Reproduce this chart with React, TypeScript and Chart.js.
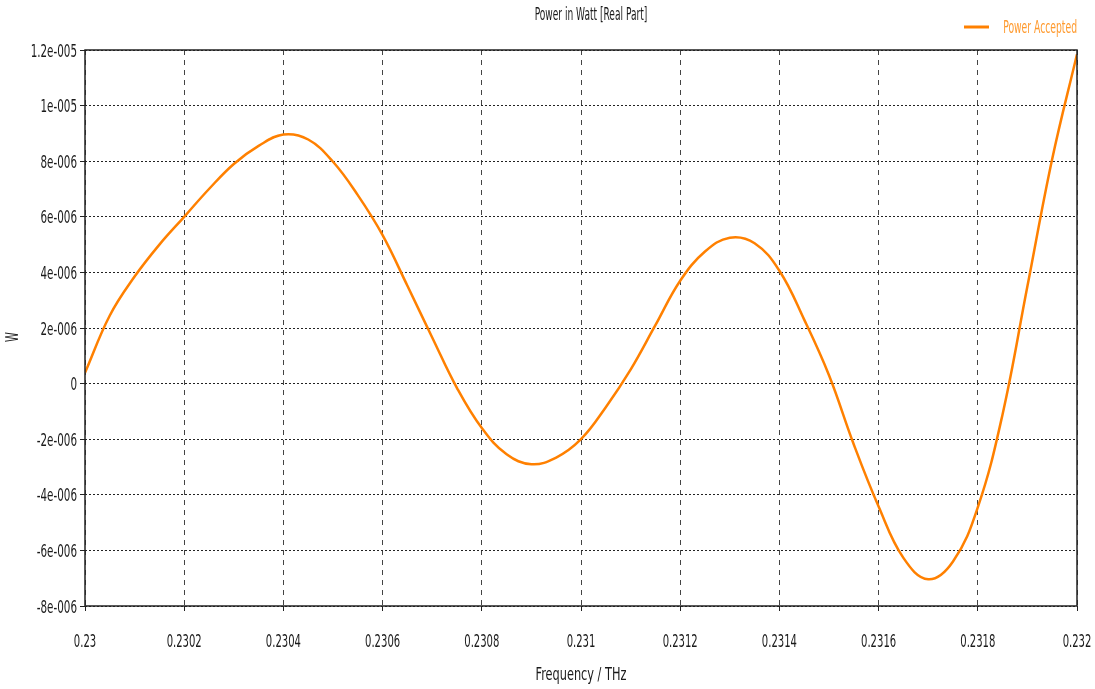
import React, { useEffect, useRef } from "react";
import { Chart, registerables } from "chart.js";

Chart.register(...registerables);

// Frequency in THz
const freqTHz = [
  0.23, 0.23005, 0.2301, 0.23015, 0.2302, 0.23025, 0.2303, 0.23035, 0.2304, 0.23045,
  0.2305, 0.23055, 0.2306, 0.23065, 0.2307, 0.23075, 0.2308, 0.23085, 0.2309, 0.23095,
  0.231, 0.23105, 0.2311, 0.23115, 0.2312, 0.23125, 0.2313, 0.23135, 0.2314, 0.23145,
  0.2315, 0.23155, 0.2316, 0.23165, 0.2317, 0.23175, 0.2318, 0.23185, 0.2319, 0.23195,
  0.232,
];

// Power accepted, real part, in microwatt
const powerMicroW = [
  0.39, 2.45, 3.85, 5.0, 6.0, 7.0, 7.9, 8.55, 8.96, 8.78,
  7.98, 6.78, 5.34, 3.52, 1.66, -0.16, -1.6, -2.54, -2.9, -2.66,
  -2.0, -0.85, 0.5, 2.1, 3.7, 4.75, 5.25, 5.05, 4.06, 2.3,
  0.3, -2.19, -4.42, -6.27, -7.04, -6.4, -4.45, -1.1, 3.5, 8.08,
  11.85,
];

const xTickValues = [
  0.23, 0.2302, 0.2304, 0.2306, 0.2308, 0.231, 0.2312, 0.2314, 0.2316, 0.2318, 0.232,
];
const xTickLabels = [
  "0.23", "0.2302", "0.2304", "0.2306", "0.2308", "0.231", "0.2312", "0.2314", "0.2316", "0.2318", "0.232",
];
const yTickValues = [
  -8e-6, -6e-6, -4e-6, -2e-6, 0, 2e-6, 4e-6, 6e-6, 8e-6, 1e-5, 1.2e-5,
];
const yTickLabels = [
  "-8e-006", "-6e-006", "-4e-006", "-2e-006", "0", "2e-006", "4e-006", "6e-006", "8e-006", "1e-005", "1.2e-005",
];

const chartTitle = "Power in Watt [Real Part]";
const seriesName = "Power Accepted";
const xTitle = "Frequency / THz";
const yTitle = "W";

const FONT = '"DejaVu Sans Condensed", "DejaVu Sans", sans-serif';
const ORANGE = "#ff8000";
const TEXT = "#1a1a1a";

function drawText(
  ctx: CanvasRenderingContext2D,
  text: string,
  x: number,
  y: number,
  align: "left" | "center" | "right",
  sx: number,
  color: string,
  size = 18
) {
  ctx.save();
  ctx.font = `${size}px ${FONT}`;
  ctx.fillStyle = color;
  ctx.textBaseline = "alphabetic";
  ctx.textAlign = align;
  ctx.translate(x, y);
  ctx.scale(sx, 1);
  ctx.fillText(text, 0, 0);
  ctx.restore();
}

const overlayPlugin = {
  id: "overlay",
  afterDraw(chart: any) {
    const { ctx, chartArea, scales } = chart;
    const { left, top, right, bottom } = chartArea;
    ctx.save();
    ctx.strokeStyle = "#222";
    ctx.lineWidth = 1.5;
    ctx.setLineDash([]);
    ctx.strokeRect(left, top, right - left, bottom - top);
    ctx.restore();

    xTickValues.forEach((v, i) => {
      const px = scales.x.getPixelForValue(v);
      drawText(ctx, xTickLabels[i], px, 647, "center", 0.62, TEXT);
    });
    yTickValues.forEach((v, i) => {
      const py = scales.y.getPixelForValue(v);
      drawText(ctx, yTickLabels[i], 77, py + 6.5, "right", 0.64, TEXT);
    });

    drawText(ctx, chartTitle, 591, 19.5, "center", 0.56, TEXT);

    ctx.save();
    ctx.strokeStyle = ORANGE;
    ctx.lineWidth = 3;
    ctx.beginPath();
    ctx.moveTo(964, 27);
    ctx.lineTo(989, 27);
    ctx.stroke();
    ctx.restore();
    drawText(ctx, seriesName, 1077, 33, "right", 0.57, "#ff9a2e");

    drawText(ctx, xTitle, (left + right) / 2, 680, "center", 0.7, TEXT);

    ctx.save();
    ctx.translate(18, 337);
    ctx.rotate(-Math.PI / 2);
    drawText(ctx, yTitle, 0, 0, "center", 0.62, TEXT);
    ctx.restore();
  },
};

export default function App() {
  const canvasRef = useRef<HTMLCanvasElement | null>(null);

  useEffect(() => {
    const canvas = canvasRef.current;
    if (!canvas) return;
    const points = freqTHz.map((f, i) => ({ x: f, y: powerMicroW[i] * 1e-6 }));
    const chart = new Chart(canvas, {
      type: "line",
      data: {
        datasets: [
          {
            label: seriesName,
            data: points,
            borderColor: ORANGE,
            borderWidth: 2.5,
            pointRadius: 0,
            fill: false,
            tension: 0.4,
          },
        ],
      },
      options: {
        animation: false,
        responsive: false,
        maintainAspectRatio: false,
        layout: { padding: { top: 50, right: 18, left: 0, bottom: 0 } },
        plugins: {
          legend: { display: false },
          title: { display: false },
          tooltip: { enabled: false },
        },
        scales: {
          x: {
            type: "linear",
            min: 0.23,
            max: 0.232,
            afterBuildTicks: (scale: any) => {
              scale.ticks = xTickValues.map((v) => ({ value: v }));
            },
            afterFit: (scale: any) => {
              scale.height = 83;
              scale.paddingLeft = 0;
              scale.paddingRight = 0;
            },
            ticks: { display: false },
            grid: {
              color: "#444",
              lineWidth: 1,
              drawTicks: true,
              tickLength: 5,
              tickColor: "#222",
              tickWidth: 1,
              tickBorderDash: [],
            },
            border: { display: false, dash: [5, 5] },
          },
          y: {
            type: "linear",
            min: -8e-6,
            max: 1.2e-5,
            afterBuildTicks: (scale: any) => {
              scale.ticks = yTickValues.map((v) => ({ value: v }));
            },
            afterFit: (scale: any) => {
              scale.width = 85;
              scale.paddingTop = 0;
              scale.paddingBottom = 0;
            },
            ticks: { display: false },
            grid: {
              color: "#222",
              lineWidth: 1,
              drawTicks: true,
              tickLength: 5,
              tickColor: "#222",
              tickWidth: 1,
              tickBorderDash: [],
            },
            border: { display: false, dash: [2, 2] },
          },
        },
      },
      plugins: [overlayPlugin],
    } as any);
    return () => chart.destroy();
  }, []);

  return (
    <div style={{ position: "fixed", left: 0, top: 0, width: 1095, height: 689, background: "#fff" }}>
      <canvas ref={canvasRef} width={1095} height={689} style={{ width: 1095, height: 689, display: "block" }} />
    </div>
  );
}
